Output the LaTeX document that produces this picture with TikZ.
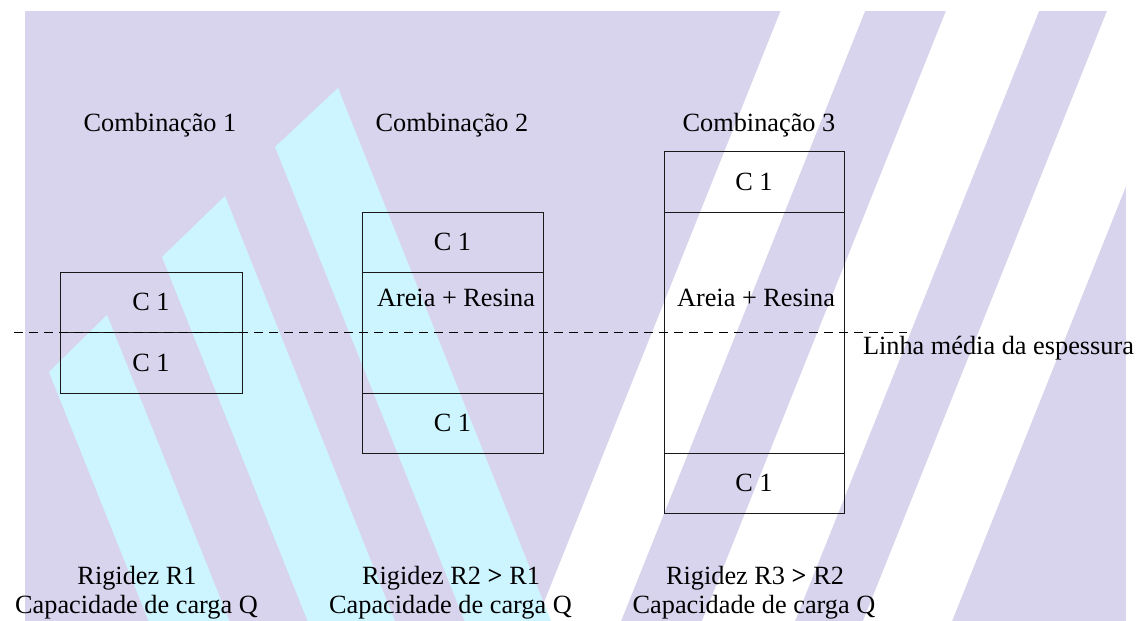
\documentclass[tikz,border=0pt]{standalone}
\usepackage{fontspec}
\setmainfont{Liberation Serif}
\definecolor{lav}{RGB}{217,212,238}
\definecolor{cy}{RGB}{204,245,255}
\begin{document}
\begin{tikzpicture}[x=1pt,y=-1pt,
  every node/.style={font=\fontsize{26.3}{30}\selectfont, text=black, inner sep=0pt, outer sep=0pt},
  cell/.style={draw=black!90, line width=1pt, inner sep=0pt, outer sep=0pt, minimum width=#1},
  midline/.style={draw=black, line width=1pt, dash pattern=on 8.5pt off 6.5pt}]
\useasboundingbox (0,0) rectangle (1141,621);
% background
\fill[lav] (25,11) rectangle (1126,621);
\fill[white] (780.6,11) -- (865,11) -- (621,621) -- (536.6,621) -- cycle;
\fill[white] (946,11) -- (1039,11) -- (795,621) -- (702,621) -- cycle;
\fill[white] (1107,11) -- (1196,11) -- (952,621) -- (863,621) -- cycle;
\fill[cy] (49,372) -- (107,315) -- (229.4,621) -- (148.6,621) -- cycle;
\fill[cy] (162,257) -- (225,196) -- (395,621) -- (307.6,621) -- cycle;
\fill[cy] (275,147) -- (338,88) -- (551,621) -- (464.6,621) -- cycle;

% titles
\node[anchor=base] (t1) at (160,131) {Combinação 1};
\node[anchor=base] (t2) at (452,131) {Combinação 2};
\node[anchor=base] (t3) at (759,131) {Combinação 3};

% combination 1
\node[cell=182, minimum height=60] (b1t) at (151,302) {C 1};
\node[cell=182, minimum height=61] (b1b) at (151,362.5) {C 1};

% combination 2
\node[cell=181, minimum height=60] (b2t) at (452.5,242) {C 1};
\node[cell=181, minimum height=121] (b2m) at (452.5,332.5) {};
\node[cell=181, minimum height=60] (b2b) at (452.5,423) {C 1};
\node (a2) at (456,298) {Areia + Resina};

% combination 3
\node[cell=180, minimum height=61] (b3t) at (754,181.5) {C 1};
\node[cell=180, minimum height=241] (b3m) at (754,332.5) {};
\node[cell=180, minimum height=60] (b3b) at (754,483) {C 1};
\node (a3) at (756,298) {Areia + Resina};

% mid-thickness line
\coordinate (dl) at (14,332);
\coordinate (dr) at (907,332);
\draw[midline] (dl) -- (dr);
\node[anchor=base west] (lm) at (863,354) {Linha média da espessura};

% bottom texts
\node[anchor=base] (r1) at (137,584) {Rigidez R1};
\node[anchor=base] (q1) at (136.5,613) {Capacidade de carga Q};
\node[anchor=base] (r2) at (451,584) {Rigidez R2 {\bfseries >} R1};
\node[anchor=base] (q2) at (450.5,613) {Capacidade de carga Q};
\node[anchor=base] (r3) at (755,584) {Rigidez R3 {\bfseries >} R2};
\node[anchor=base] (q3) at (754,613) {Capacidade de carga Q};
\end{tikzpicture}
\end{document}
